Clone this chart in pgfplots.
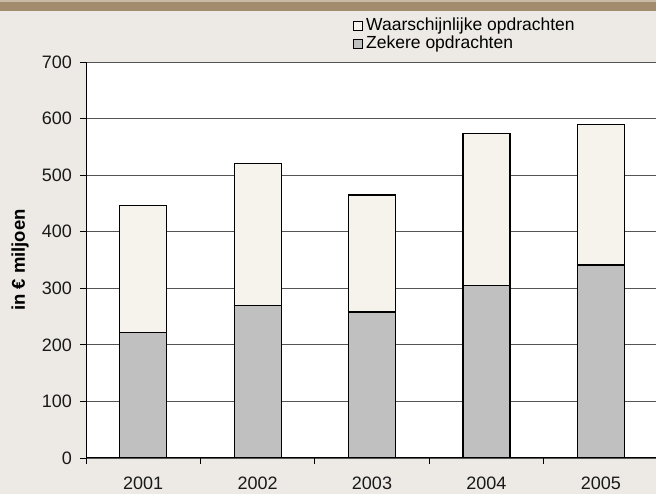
\documentclass[border=0pt]{standalone}
\usepackage{pgfplots}
\pgfplotsset{compat=1.18}
\usepackage{fontspec}
\setmainfont{Liberation Sans}
\definecolor{bg}{HTML}{EDEAE5}
\definecolor{band}{HTML}{A38C6D}
\definecolor{bandlight}{HTML}{C9BBA6}
\definecolor{zek}{HTML}{C0C0C0}
\definecolor{waar}{HTML}{F6F2EC}
\definecolor{gridc}{HTML}{555555}
\begin{document}
\begin{tikzpicture}[x=1pt,y=1pt]
\path[use as bounding box] (0,0) rectangle (656,494);
\clip (0,0) rectangle (656,494);
\fill[bg] (0,0) rectangle (656,494);
\fill[band] (0,483) rectangle (656,494);
\fill[bandlight] (0,492) rectangle (656,494);
\begin{axis}[
  at={(86pt,36pt)}, anchor=south west,
  scale only axis, width=572pt, height=396pt,
  ybar stacked, bar width=47pt,
  xmin=-0.5, xmax=4.5, ymin=0, ymax=700,
  axis lines*=left,
  axis line style={black, line width=1pt},
  axis background/.style={fill=white},
  ytick={0,100,...,700},
  xtick={-0.5,0.5,1.5,2.5,3.5,4.5}, xticklabels={},
  extra x ticks={0,1,2,3,4},
  extra x tick labels={2001,2002,2003,2004,2005},
  extra x tick style={major tick length=0pt, xticklabel style={yshift=-15pt}},
  tick align=outside, major tick length=6pt,
  tick style={black, line width=0.8pt},
  ymajorgrids, grid style={gridc, line width=0.9pt},
  /pgf/number format/assume math mode=true,
  tick label style={font=\fontsize{18}{21}\selectfont, text=black!90},
  yticklabel style={xshift=-4.5pt},
  ylabel={\bfseries in € miljoen},
  ylabel style={at={(axis description cs:-0.1154,0.5)}, anchor=center, rotate=0, font=\fontsize{18.5}{21}\selectfont},
  legend style={at={(axis description cs:0.4668,1.112)}, anchor=north west, draw=none, fill=none,
    font=\fontsize{17.5}{19}\selectfont, row sep=1pt, inner sep=0pt,
    nodes={inner sep=0pt, text height=13pt, text depth=4pt}},
  legend cell align=left, reverse legend,
  legend image code/.code={\draw[#1, line width=0.8pt] (0pt,-4.5pt) rectangle (9pt,4.5pt); \path (12pt,0pt);},
]
\addplot[draw=black, line width=1.2pt, fill=zek] coordinates {(0,222) (1,269) (2,258) (3,305) (4,341)};
\addlegendentry{Zekere opdrachten}
\addplot[draw=black, line width=1.2pt, fill=waar] coordinates {(0,225) (1,252) (2,207) (3,268) (4,248)};
\addlegendentry{Waarschijnlijke opdrachten}
\end{axis}
\end{tikzpicture}
\end{document}
